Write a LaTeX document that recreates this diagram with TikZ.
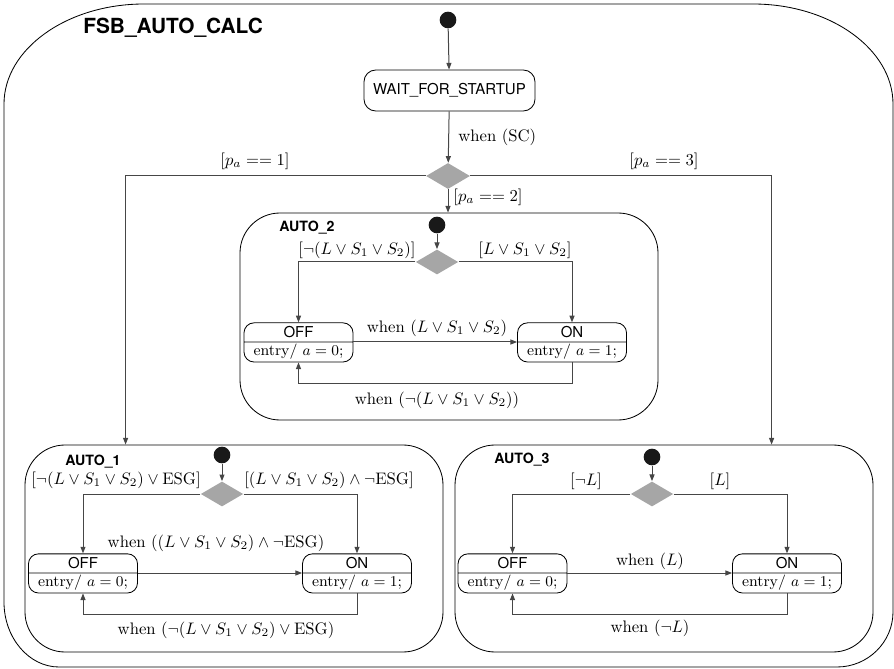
\documentclass[tikz,border=0pt]{standalone}
\usepackage{fontspec}
\usepackage{amsmath}
\usepackage{amssymb}
\newfontfamily\heros{TeX Gyre Heros}
\usetikzlibrary{shapes.geometric, shapes.multipart, arrows.meta, calc}
\definecolor{flowcol}{RGB}{70,70,70}
\definecolor{choicecol}{RGB}{166,166,166}

\tikzset{
  flow/.style={flowcol, line width=0.6pt, -{Triangle[length=4pt, width=3pt]}},
  initial/.style={circle, fill=black!90, minimum size=10pt, inner sep=0pt},
  choice/.style={diamond, fill=choicecol, minimum width=25.5pt,
                 minimum height=15pt, inner sep=0pt},
  region/.style={draw, line width=0.5pt, rounded corners=24pt,
                 minimum width=250.8pt, minimum height=124.2pt},
  state/.style={draw, line width=0.5pt, rounded corners=6pt, rectangle split,
                rectangle split parts=2, minimum width=65.4pt,
                inner xsep=2pt, inner ysep=1pt,
                font=\heros\fontsize{9}{10}\selectfont},
  guard/.style={inner sep=0pt},
  boxname/.style={inner sep=0pt, anchor=west,
                  font=\heros\bfseries\fontsize{8.5}{10}\selectfont}
}
\newcommand{\entrytext}[1]{\fontsize{9.2}{10}\selectfont\rmfamily
  \rule[-2.6pt]{0pt}{8pt}entry/ $a = #1$;}

\begin{document}
\begin{tikzpicture}[x=0.6pt, y=-0.6pt]
  \useasboundingbox (0,0) rectangle (894,669);

  % Outer state FSB_AUTO_CALC
  \draw[line width=0.5pt]
    (4,104) .. controls (4,49) and (67,4) .. (144,4)
    -- (753,4) .. controls (830,4) and (893,49) .. (893,104)
    -- (893,612) .. controls (893,642) and (868,667) .. (837,667)
    -- (59,667) .. controls (29,667) and (4,638) .. (4,602) -- cycle;
  \node[inner sep=0pt, anchor=west, font=\heros\bfseries\fontsize{12.5}{14}\selectfont]
    (fsb) at (83,28) {FSB\_AUTO\_CALC};

  % Top level: start, wait, choice
  \node[initial] (i0) at (448,20) {};
  \node[draw, line width=0.5pt, rounded corners=7pt, minimum width=102.6pt,
        minimum height=24.6pt, font=\heros\fontsize{9}{10}\selectfont]
    (wait) at (449.5,90.5) {WAIT\_FOR\_STARTUP};
  \node[choice, minimum width=26.4pt, minimum height=15.6pt] (c0) at (448,176) {};

  % Sub states
  \node[region] (auto2) at (449,316.5) {};
  \node[region] (auto1) at (234,548.5) {};
  \node[region] (auto3) at (664,548.5) {};
  \node[boxname] (n2) at (279,228) {AUTO\_2};
  \node[boxname] (n1) at (65,462) {AUTO\_1};
  \node[boxname] (n3) at (494,460) {AUTO\_3};

  \coordinate (a1in) at ($(auto1.north west)+(101,0)$);
  \coordinate (a3in) at ($(auto3.north west)+(317,0)$);

  \draw[flow] (i0) -- (wait);
  \draw[flow] (wait) -- (c0);
  \draw[flow] (c0.west) -| (a1in);
  \draw[flow] (c0.east) -| (a3in);
  \draw[flow] (c0.south) -- (c0.south |- auto2.north);

  \node[guard, anchor=west] (g0) at (458,137) {when (SC)};
  \node[guard] (g1) at (255,161) {$[p_a == 1]$};
  \node[guard] (g3) at (664,161) {$[p_a == 3]$};
  \node[guard] (g2) at (488,197) {$[p_a == 2]$};

  % OFF/ON machine inside each sub state
  \foreach \m/\dx/\dy/\cy/\offx/\onx/\sy in
    {2/437/225/262/298.5/572/342, 1/222/455/494/83/357/573,
     3/652/457/494/512.5/787/573} {
    \node[initial] (i\m) at (\dx,\dy) {};
    \node[choice] (c\m) at (\dx,\cy) {};
    \node[state, anchor=text split] (off\m) at (\offx,\sy)
      {\rule[-1.6pt]{0pt}{9pt}OFF\nodepart{two}\entrytext{0}};
    \node[state, anchor=text split] (on\m) at (\onx,\sy)
      {\rule[-1.6pt]{0pt}{9pt}ON\nodepart{two}\entrytext{1}};
    \draw[flow] (i\m) -- (c\m);
    \draw[flow] (c\m.west) -| (off\m);
    \draw[flow] (c\m.east) -| (on\m);
    \draw[flow] (off\m.text split east) -- (on\m.text split west);
    \draw[flow] (on\m.south) -- ++(0,21) -| (off\m.south);
  }

  % Guards and triggers
  \node[guard] (l2a) at (357,250) {$[\neg(L \vee S_1 \vee S_2)]$};
  \node[guard] (l2b) at (525,250) {$[L \vee S_1 \vee S_2]$};
  \node[guard] (l2c) at (437,328) {when $(L \vee S_1 \vee S_2)$};
  \node[guard] (l2d) at (437,400) {when $(\neg(L \vee S_1 \vee S_2))$};

  \node[guard] (l1a) at (116,480) {$[\neg(L \vee S_1 \vee S_2) \vee \mathrm{ESG}]$};
  \node[guard] (l1b) at (329,480) {$[(L \vee S_1 \vee S_2) \wedge \neg\mathrm{ESG}]$};
  \node[guard] (l1c) at (216,543) {when $((L \vee S_1 \vee S_2) \wedge \neg\mathrm{ESG})$};
  \node[guard] (l1d) at (226,630) {when $(\neg(L \vee S_1 \vee S_2) \vee \mathrm{ESG})$};

  \node[guard] (l3a) at (586,481) {$[\neg L]$};
  \node[guard] (l3b) at (720,481) {$[L]$};
  \node[guard] (l3c) at (650,561) {when $(L)$};
  \node[guard] (l3d) at (650,628) {when $(\neg L)$};

\end{tikzpicture}
\end{document}
